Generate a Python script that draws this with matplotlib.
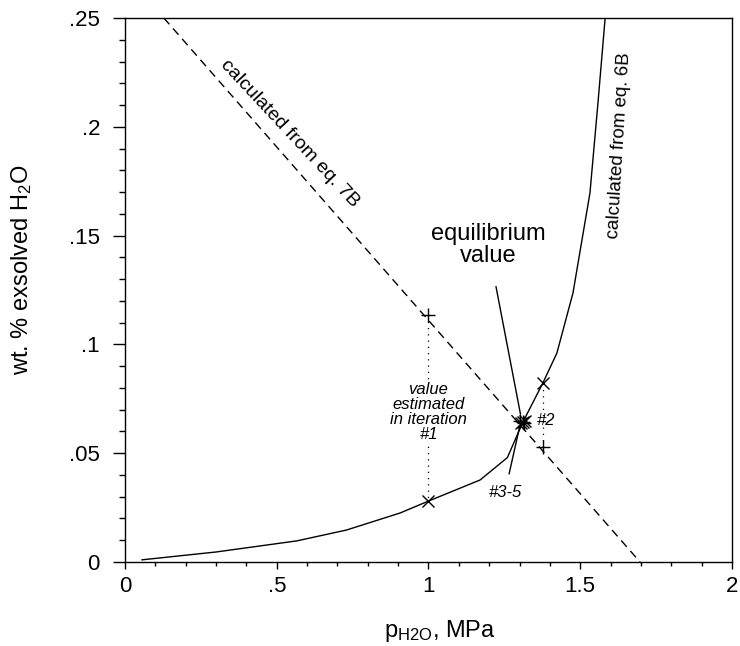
import matplotlib
matplotlib.use("Agg")
import matplotlib.pyplot as plt
from matplotlib.ticker import MultipleLocator, FixedLocator, FixedFormatter

plt.rcParams['font.family'] = ['Liberation Sans', 'DejaVu Sans']
plt.rcParams['mathtext.fontset'] = 'custom'
plt.rcParams['mathtext.rm'] = 'Liberation Sans'
plt.rcParams['mathtext.default'] = 'regular'

# curve from eq. 6B (solid)
eq6_p = [0.056, 0.30, 0.566, 0.73, 0.906, 1.0, 1.17, 1.26, 1.311, 1.377, 1.423, 1.476, 1.532, 1.559, 1.582]
eq6_w = [0.001, 0.0046, 0.0097, 0.0147, 0.0225, 0.028, 0.0377, 0.048, 0.0643, 0.0823, 0.096, 0.1236, 0.1696, 0.212, 0.25]

# line from eq. 7B (dashed)
eq7_p = [0.128, 1.697]
eq7_w = [0.25, 0.0]

# iteration points
plus_p = [1.0, 1.377, 1.302, 1.316, 1.310]
plus_w = [0.1135, 0.0528, 0.0646, 0.0640, 0.0643]
cross_p = [1.0, 1.377, 1.305, 1.318, 1.310]
cross_w = [0.028, 0.0823, 0.0640, 0.0646, 0.0643]

xticks = [0, 0.5, 1, 1.5, 2]
xlabels = ['0', '.5', '1', '1.5', '2']
yticks = [0, 0.05, 0.1, 0.15, 0.2, 0.25]
ylabels = ['0', '.05', '.1', '.15', '.2', '.25']

fig = plt.figure(figsize=(7.4, 6.46), dpi=100)
ax = fig.add_axes([125/740, 1 - 562/646, 607/740, 544/646])

ax.plot(eq6_p, eq6_w, color='black', lw=1.0)
ax.plot(eq7_p, eq7_w, color='black', lw=1.0, linestyle=(0, (6, 4)))

# dotted connectors between iteration estimates
ax.plot([plus_p[0], cross_p[0]], [plus_w[0], cross_w[0]], color='black', lw=0.9, linestyle=(0, (1, 4)))
ax.plot([plus_p[1], cross_p[1]], [plus_w[1], cross_w[1]], color='black', lw=0.9, linestyle=(0, (1, 4)))

ax.plot(plus_p, plus_w, linestyle='none', marker='+', ms=10, mew=1.0, color='black')
ax.plot(cross_p, cross_w, linestyle='none', marker='x', ms=8, mew=1.0, color='black')

ax.set_xlim(0, 2)
ax.set_ylim(0, 0.25)
ax.xaxis.set_major_locator(FixedLocator(xticks))
ax.xaxis.set_major_formatter(FixedFormatter(xlabels))
ax.yaxis.set_major_locator(FixedLocator(yticks))
ax.yaxis.set_major_formatter(FixedFormatter(ylabels))
ax.xaxis.set_minor_locator(MultipleLocator(0.1))
ax.yaxis.set_minor_locator(MultipleLocator(0.01))

ax.tick_params(axis='both', which='both', direction='out', color='black', width=1.0)
ax.tick_params(axis='y', which='major', length=9, pad=9, labelsize=16)
ax.tick_params(axis='y', which='minor', length=4.5)
ax.tick_params(axis='x', which='major', length=5, pad=5, labelsize=16)
ax.tick_params(axis='x', which='minor', length=3)
for s in ax.spines.values():
    s.set_linewidth(1.0)
    s.set_color('black')

ax.set_xlabel('p$_{H2O}$, MPa', fontsize=17)
ax.xaxis.set_label_coords(0.519, -0.103)
ax.set_ylabel('wt. % exsolved H$_2$O', fontsize=17)
ax.yaxis.set_label_coords(-0.15, 0.537)

ax.text(0.544, 0.197, 'calculated from eq. 7B', fontsize=14, rotation=-47,
        rotation_mode='anchor', ha='center', va='center')
ax.text(1.63, 0.1916, 'calculated from eq. 6B', fontsize=13.5, rotation=86.5,
        rotation_mode='anchor', ha='center', va='center')

ax.annotate('equilibrium\nvalue', xy=(1.303, 0.068), xytext=(1.196, 0.1457),
            fontsize=17, ha='center', va='center', linespacing=1.05,
            arrowprops=dict(arrowstyle='-', color='black', lw=1.0, shrinkA=12, shrinkB=0))
ax.annotate('#3-5', xy=(1.30, 0.062), xytext=(1.252, 0.032),
            fontsize=12, style='italic', ha='center', va='center',
            arrowprops=dict(arrowstyle='-', color='black', lw=1.0, shrinkA=6, shrinkB=0))
ax.text(1.357, 0.0648, '#2', fontsize=12, style='italic', ha='left', va='center')
ax.text(1.0, 0.069, 'value\nestimated\nin iteration\n#1', fontsize=12, style='italic',
        ha='center', va='center', linespacing=1.0,
        bbox=dict(facecolor='white', edgecolor='none', pad=1))

fig.savefig('out.png', dpi=100)
